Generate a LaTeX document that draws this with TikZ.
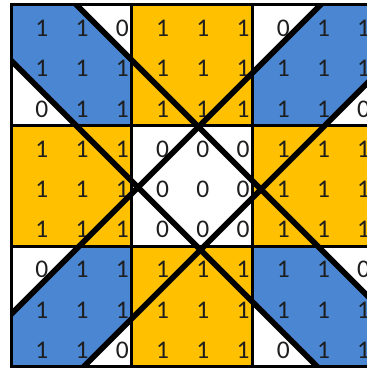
\documentclass[tikz,border=0pt]{standalone}
\usepackage{fontspec}
\setmainfont{Carlito}
\definecolor{cblue}{HTML}{4A86D2}
\definecolor{cgold}{HTML}{FFC000}
\definecolor{digit}{HTML}{1E1E1E}
\begin{document}
\begin{tikzpicture}[x=1cm,y=-1cm,
  blockline/.style={line width=2pt},
  diag/.style={line width=4pt},
  hole/.style={fill=white},
  num/.style={anchor=base east, inner sep=0pt, font=\fontsize{18}{20}\selectfont, text=digit}]
\useasboundingbox (-0.28,-0.12) rectangle (8.83,9.13);
\fill[white] (-0.28,-0.12) rectangle (8.83,9.13);
% block fills
\fill[cblue] (0,0) rectangle (3,3) (6,0) rectangle (9,3) (0,6) rectangle (3,9) (6,6) rectangle (9,9);
\fill[cgold] (3,0) rectangle (6,3) (0,3) rectangle (3,6) (6,3) rectangle (9,6) (3,6) rectangle (6,9);
% white corner triangles
\fill[hole] (1.62,0) -- (3,0) -- (3,1.38) -- cycle;
\fill[hole] (0,1.39) -- (0,3) -- (1.61,3) -- cycle;
\fill[hole] (6,0) -- (7.69,0) -- (6,1.69) -- cycle;
\fill[hole] (9,1.8) -- (9,3) -- (7.8,3) -- cycle;
\fill[hole] (0,6) -- (1.69,6) -- (0,7.69) -- cycle;
\fill[hole] (3,7.8) -- (3,9) -- (1.8,9) -- cycle;
\fill[hole] (7.62,6) -- (9,6) -- (9,7.38) -- cycle;
\fill[hole] (6,7.39) -- (6,9) -- (7.61,9) -- cycle;
% digits
\foreach \row [count=\r] in {{1,1,0,1,1,1,0,1,1},{1,1,1,1,1,1,1,1,1},{0,1,1,1,1,1,1,1,0},{1,1,1,0,0,0,1,1,1},{1,1,1,0,0,0,1,1,1},{1,1,1,0,0,0,1,1,1},{0,1,1,1,1,1,1,1,0},{1,1,1,1,1,1,1,1,1},{1,1,0,1,1,1,0,1,1}}{
  \foreach \val [count=\c] in \row {
    \node[num] (n\r-\c) at (\c-0.07,\r-0.21) {\val};
  }
}
% block borders
\draw[blockline] (0,0) rectangle (9,9);
\draw[blockline] (3,0) -- (3,9) (6,0) -- (6,9) (0,3) -- (9,3) (0,6) -- (9,6);
% diagonals
\coordinate (A1) at (1.32,-0.3); \coordinate (A2) at (9.3,7.68);
\coordinate (B1) at (-0.3,1.09); \coordinate (B2) at (7.91,9.3);
\coordinate (C1) at (7.99,-0.3); \coordinate (C2) at (-0.3,7.99);
\coordinate (D1) at (1.5,9.3); \coordinate (D2) at (9.3,1.5);
\begin{scope}
\clip (0,0) rectangle (9,9);
\draw[diag] (A1) -- (A2);
\draw[diag] (B1) -- (B2);
\draw[diag] (C1) -- (C2);
\draw[diag] (D1) -- (D2);
\end{scope}
\end{tikzpicture}
\end{document}
